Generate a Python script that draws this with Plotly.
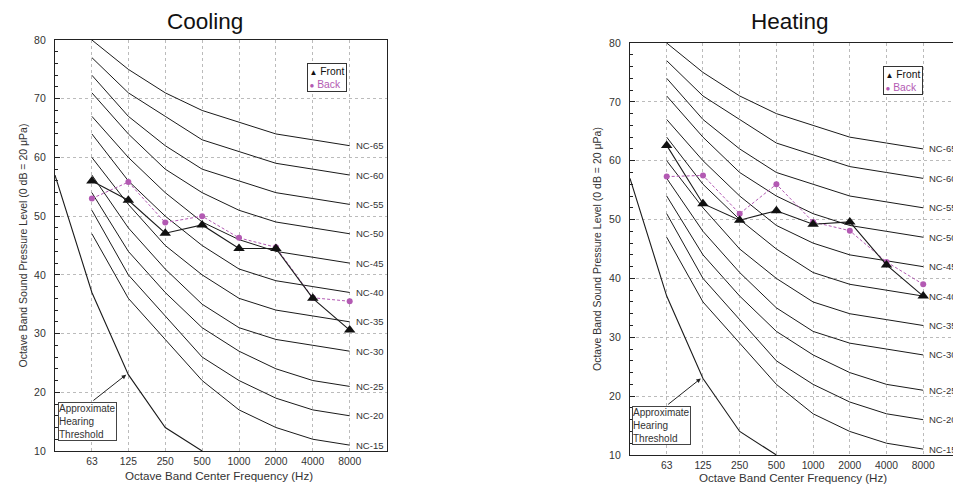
import math
import plotly.graph_objects as go

# ---------------- data ----------------
freq_labels = ["63", "125", "250", "500", "1000", "2000", "4000", "8000"]
freqs = [63, 125, 250, 500, 1000, 2000, 4000, 8000]

nc_names = ["NC-15", "NC-20", "NC-25", "NC-30", "NC-35", "NC-40",
            "NC-45", "NC-50", "NC-55", "NC-60", "NC-65"]
nc_15 = [47, 36, 29, 22, 17, 14, 12, 11]
nc_20 = [51, 40, 33, 26, 22, 19, 17, 16]
nc_25 = [54, 44, 37, 31, 27, 24, 22, 21]
nc_30 = [57, 48, 41, 35, 31, 29, 28, 27]
nc_35 = [60, 52, 45, 40, 36, 34, 33, 32]
nc_40 = [64, 56, 50, 45, 41, 39, 38, 37]
nc_45 = [67, 60, 54, 49, 46, 44, 43, 42]
nc_50 = [71, 64, 58, 54, 51, 49, 48, 47]
nc_55 = [74, 67, 62, 58, 56, 54, 53, 52]
nc_60 = [77, 71, 67, 63, 61, 59, 58, 57]
nc_65 = [80, 75, 71, 68, 66, 64, 63, 62]
nc_curves = [nc_15, nc_20, nc_25, nc_30, nc_35, nc_40,
             nc_45, nc_50, nc_55, nc_60, nc_65]

threshold_freqs = [31.5, 63, 125, 250, 500]
threshold_vals = [57, 37, 23, 14, 10]

cooling_front = [56.0, 52.7, 47.1, 48.5, 44.5, 44.5, 36.0, 30.6]
cooling_back = [53.0, 55.8, 48.9, 50.0, 46.3, 44.7, 36.1, 35.5]
heating_front = [62.6, 52.7, 49.9, 51.5, 49.2, 49.6, 42.3, 37.0]
heating_back = [57.3, 57.5, 51.0, 56.0, 49.6, 48.1, 42.8, 39.0]

series_names = ["Front", "Back"]

# ---------------- style ----------------
W, H = 953, 485
FONT = "Arial, Liberation Sans, sans-serif"
PURPLE = "#b35ab3"
TXT = "#333333"

fig = go.Figure()

panels = [
    dict(name="Cooling", xa="x", ya="y", front=cooling_front, back=cooling_back,
         xdom=[55 / W, 387 / W], ydom=[1 - 451 / H, 1 - 40 / H],
         xr=[math.log10(31.5), math.log10(31.5) + 9 * math.log10(2)],
         leg_x=307, leg_y=63, title_x=205, title_y=22,
         ytitle_x=22, xtitle_x=219, xtitle_y=475, mirror_y=True,
         box_x=58, box_y=401.5, label_shift=4),
    dict(name="Heating", xa="x2", ya="y2", front=heating_front, back=heating_back,
         xdom=[630 / W, 1.0], ydom=[1 - 455 / H, 1 - 43 / H],
         xr=[math.log10(31.5), math.log10(31.5) + 8.8 * math.log10(2)],
         leg_x=883, leg_y=66.5, title_x=790, title_y=22,
         ytitle_x=597, xtitle_x=793, xtitle_y=477, mirror_y=False,
         box_x=632, box_y=405.5, label_shift=4),
]

annotations = []
for i, p in enumerate(panels):
    # NC curves
    for name, vals in zip(nc_names, nc_curves):
        fig.add_trace(go.Scatter(x=freqs, y=vals, mode="lines", xaxis=p["xa"], yaxis=p["ya"],
                                 line=dict(color="#1a1a1a", width=1), showlegend=False,
                                 name=name, hoverinfo="skip"))
        annotations.append(dict(x=math.log10(freqs[-1]), y=vals[-1], xref=p["xa"], yref=p["ya"],
                                text=name, showarrow=False, xanchor="left", yanchor="middle",
                                xshift=p["label_shift"], font=dict(family=FONT, size=9.5, color=TXT)))
    # hearing threshold
    fig.add_trace(go.Scatter(x=threshold_freqs, y=threshold_vals, mode="lines",
                             xaxis=p["xa"], yaxis=p["ya"], name="Approximate Hearing Threshold",
                             line=dict(color="#1a1a1a", width=1.1), showlegend=False))
    # measured data
    fig.add_trace(go.Scatter(x=freqs, y=p["back"], mode="lines+markers", xaxis=p["xa"], yaxis=p["ya"],
                             name=series_names[1],
                             line=dict(color=PURPLE, width=1, dash="3px,2px"),
                             marker=dict(symbol="circle", size=6, color=PURPLE),
                             showlegend=False))
    fig.add_trace(go.Scatter(x=freqs, y=p["front"], mode="lines+markers", xaxis=p["xa"], yaxis=p["ya"],
                             name=series_names[0],
                             line=dict(color="#1a1a1a", width=1.1),
                             marker=dict(symbol="triangle-up", size=10, color="#111111"),
                             showlegend=False))

    # legend box
    annotations.append(dict(x=p["leg_x"] / W, y=1 - p["leg_y"] / H, xref="paper", yref="paper",
                            text=("<span style='font-size:8px'>▲</span> %s<br>"
                                  "<span style='color:%s'><span style='font-size:8px'>●</span> %s</span>")
                                 % (series_names[0], PURPLE, series_names[1]),
                            showarrow=False, xanchor="left", yanchor="top", align="left",
                            bordercolor="#333333", borderwidth=1, borderpad=1.5, bgcolor="white",
                            font=dict(family=FONT, size=10.3, color="#111111")))

    # titles
    annotations.append(dict(x=p["title_x"] / W, y=1 - p["title_y"] / H, xref="paper", yref="paper",
                            text=p["name"], showarrow=False, xanchor="center", yanchor="middle",
                            font=dict(family=FONT, size=22.5, color="#111111")))
    annotations.append(dict(x=p["ytitle_x"] / W, y=(p["ydom"][0] + p["ydom"][1]) / 2,
                            xref="paper", yref="paper", textangle=-90,
                            text="Octave Band Sound Pressure Level (0 dB = 20 μPa)", showarrow=False,
                            xanchor="center", yanchor="middle",
                            font=dict(family=FONT, size=10.5, color=TXT)))
    annotations.append(dict(x=p["xtitle_x"] / W, y=1 - p["xtitle_y"] / H, xref="paper", yref="paper",
                            text="Octave Band Center Frequency (Hz)", showarrow=False,
                            xanchor="center", yanchor="middle",
                            font=dict(family=FONT, size=11.6, color=TXT)))
    # hearing threshold box + arrow
    annotations.append(dict(x=p["box_x"] / W, y=1 - p["box_y"] / H, xref="paper", yref="paper",
                            text="Approximate<br>Hearing<br>Threshold", showarrow=False,
                            xanchor="left", yanchor="top", align="left",
                            bordercolor="#444444", borderwidth=1, borderpad=0, bgcolor="white",
                            font=dict(family=FONT, size=10, color=TXT)))
    annotations.append(dict(x=math.log10(120), y=23.0, xref=p["xa"], yref=p["ya"],
                            ax=math.log10(63), ay=18.4, axref=p["xa"], ayref=p["ya"],
                            text="", showarrow=True, arrowhead=2, arrowsize=0.9, arrowwidth=1,
                            arrowcolor="#222222"))

    axis_common = dict(showline=True, linecolor="#222222", linewidth=1.3,
                       showgrid=True, gridcolor="#bbbbbb", griddash="dot", gridwidth=1,
                       zeroline=False, automargin=False)
    xkey = "xaxis" if i == 0 else "xaxis2"
    ykey = "yaxis" if i == 0 else "yaxis2"
    fig.update_layout(**{
        xkey: dict(axis_common, type="log", domain=p["xdom"], range=p["xr"], anchor=p["ya"],
                   tickvals=freqs, ticktext=freq_labels, ticks="", mirror=True,
                   ticklabelstandoff=0,
                   tickfont=dict(family=FONT, size=10.3, color=TXT)),
        ykey: dict(axis_common, domain=p["ydom"], range=[10, 80], anchor=p["xa"],
                   dtick=10, ticks="inside", ticklen=5, tickcolor="#222222",
                   minor=dict(dtick=2, ticks="inside", ticklen=3, tickcolor="#222222", showgrid=False),
                   mirror=p["mirror_y"], ticklabelstandoff=6,
                   tickfont=dict(family=FONT, size=10.5, color=TXT)),
    })

fig.update_layout(
    template="none",
    width=W, height=H,
    margin=dict(l=0, r=0, t=0, b=0, pad=0, autoexpand=False),
    paper_bgcolor="white", plot_bgcolor="white",
    font=dict(family=FONT, color=TXT),
    showlegend=False,
    annotations=annotations,
)

fig.write_html("out.html",
               config={"displayModeBar": False},
               post_script="document.body.style.margin='0';document.body.style.overflow='hidden';")
